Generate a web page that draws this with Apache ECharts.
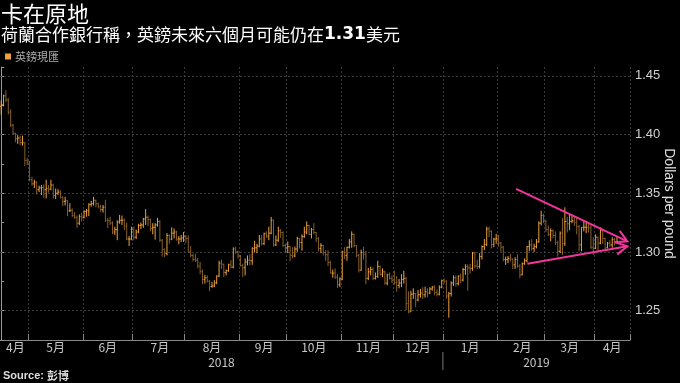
<!DOCTYPE html>
<html><head><meta charset="utf-8">
<script src="https://cdn.jsdelivr.net/npm/echarts/dist/echarts.min.js"></script>
<style>html,body{margin:0;padding:0;background:#000}#c{width:680px;height:383px}</style>
</head><body><div id="c"></div><script>
// ---------- data ----------
const monthDays = [
 ['2018-04',[13,16,17,18,19,20,23,24,25,26,27,30]],
 ['2018-05',[1,2,3,4,7,8,9,10,11,14,15,16,17,18,21,22,23,24,25,28,29,30,31]],
 ['2018-06',[1,4,5,6,7,8,11,12,13,14,15,18,19,20,21,22,25,26,27,28,29]],
 ['2018-07',[2,3,4,5,6,9,10,11,12,13,16,17,18,19,20,23,24,25,26,27,30,31]],
 ['2018-08',[1,2,3,6,7,8,9,10,13,14,15,16,17,20,21,22,23,24,27,28,29,30,31]],
 ['2018-09',[3,4,5,6,7,10,11,12,13,14,17,18,19,20,21,24,25,26,27,28]],
 ['2018-10',[1,2,3,4,5,8,9,10,11,12,15,16,17,18,19,22,23,24,25,26,29,30,31]],
 ['2018-11',[1,2,5,6,7,8,9,12,13,14,15,16,19,20,21,22,23,26,27,28,29,30]],
 ['2018-12',[3,4,5,6,7,10,11,12,13,14,17,18,19,20,21,24,25,26,27,28,31]],
 ['2019-01',[1,2,3,4,7,8,9,10,11,14,15,16,17,18,21,22,23,24,25,28,29,30,31]],
 ['2019-02',[1,4,5,6,7,8,11,12,13,14,15,18,19,20,21,22,25,26,27,28]],
 ['2019-03',[1,4,5,6,7,8,11,12,13,14,15,18,19,20,21,22,25,26,27,28,29]],
 ['2019-04',[1,2,3,4,5,8,9,10,11,12,15,16,17,18,19]]
];
const priceTicks = [1.25, 1.30, 1.35, 1.40, 1.45];
// rows: [open, high, low, close]
const apr18 = [
 [1.4240,1.4290,1.4170,1.4255],[1.4255,1.4340,1.4240,1.4330],[1.4330,1.4377,1.4275,1.4295],
 [1.4295,1.4310,1.4170,1.4190],[1.4190,1.4215,1.4065,1.4080],[1.4080,1.4090,1.4000,1.4010],
 [1.4010,1.4015,1.3935,1.3965],[1.3965,1.3995,1.3920,1.3970],[1.3970,1.3990,1.3910,1.3930],
 [1.3930,1.3990,1.3905,1.3930],[1.3930,1.3935,1.3730,1.3780],[1.3780,1.3800,1.3740,1.3765]];
const may18 = [
 [1.3765,1.3775,1.3600,1.3615],[1.3615,1.3640,1.3565,1.3580],[1.3580,1.3615,1.3545,1.3595],
 [1.3595,1.3600,1.3490,1.3530],[1.3530,1.3565,1.3510,1.3545],[1.3545,1.3570,1.3485,1.3550],
 [1.3550,1.3575,1.3460,1.3530],[1.3530,1.3615,1.3455,1.3540],[1.3540,1.3570,1.3505,1.3535],
 [1.3535,1.3615,1.3525,1.3570],[1.3570,1.3580,1.3455,1.3480],[1.3480,1.3540,1.3450,1.3500],
 [1.3500,1.3535,1.3485,1.3510],[1.3510,1.3525,1.3455,1.3465],[1.3465,1.3475,1.3390,1.3430],
 [1.3430,1.3470,1.3395,1.3435],[1.3435,1.3440,1.3305,1.3350],[1.3350,1.3415,1.3340,1.3355],
 [1.3355,1.3370,1.3295,1.3310],[1.3310,1.3340,1.3280,1.3295],[1.3295,1.3310,1.3205,1.3245],
 [1.3245,1.3320,1.3230,1.3300],[1.3300,1.3335,1.3260,1.3295]];
const jun18 = [
 [1.3295,1.3355,1.3285,1.3345],[1.3345,1.3365,1.3300,1.3350],[1.3350,1.3415,1.3305,1.3405],
 [1.3405,1.3435,1.3385,1.3410],[1.3410,1.3470,1.3395,1.3440],[1.3440,1.3445,1.3380,1.3410],
 [1.3410,1.3420,1.3370,1.3385],[1.3385,1.3400,1.3340,1.3360],[1.3360,1.3400,1.3335,1.3380],
 [1.3380,1.3445,1.3255,1.3270],[1.3270,1.3290,1.3205,1.3265],[1.3265,1.3300,1.3230,1.3245],
 [1.3245,1.3260,1.3150,1.3170],[1.3170,1.3215,1.3145,1.3190],[1.3190,1.3270,1.3100,1.3255],
 [1.3255,1.3315,1.3240,1.3270],[1.3270,1.3310,1.3230,1.3270],[1.3270,1.3285,1.3185,1.3220],
 [1.3220,1.3250,1.3100,1.3110],[1.3110,1.3135,1.3050,1.3110],[1.3110,1.3215,1.3100,1.3190]];
const jul18 = [
 [1.3190,1.3215,1.3100,1.3125],[1.3125,1.3190,1.3110,1.3170],[1.3170,1.3240,1.3160,1.3225],
 [1.3225,1.3250,1.3195,1.3230],[1.3230,1.3290,1.3205,1.3280],[1.3280,1.3365,1.3230,1.3295],
 [1.3295,1.3310,1.3220,1.3275],[1.3275,1.3285,1.3175,1.3200],[1.3200,1.3245,1.3150,1.3210],
 [1.3210,1.3245,1.3105,1.3230],[1.3230,1.3290,1.3215,1.3260],[1.3260,1.3270,1.3085,1.3100],
 [1.3100,1.3110,1.2960,1.3020],[1.3020,1.3030,1.2955,1.2985],[1.2985,1.3160,1.2970,1.3140],
 [1.3140,1.3150,1.3070,1.3110],[1.3110,1.3210,1.3100,1.3160],[1.3160,1.3200,1.3115,1.3170],
 [1.3170,1.3180,1.3095,1.3110],[1.3110,1.3135,1.3065,1.3110],[1.3110,1.3145,1.3085,1.3120],
 [1.3120,1.3170,1.3085,1.3130]];
const aug18 = [
 [1.3130,1.3145,1.3075,1.3115],[1.3115,1.3140,1.2995,1.3000],[1.3000,1.3050,1.2955,1.2970],
 [1.2970,1.2985,1.2920,1.2935],[1.2935,1.2985,1.2915,1.2930],[1.2930,1.2950,1.2860,1.2880],
 [1.2880,1.2915,1.2810,1.2835],[1.2835,1.2850,1.2725,1.2765],[1.2765,1.2805,1.2730,1.2780],
 [1.2780,1.2800,1.2740,1.2750],[1.2750,1.2760,1.2665,1.2705],[1.2705,1.2745,1.2695,1.2710],
 [1.2710,1.2760,1.2700,1.2735],[1.2735,1.2800,1.2725,1.2795],[1.2795,1.2925,1.2785,1.2905],
 [1.2905,1.2935,1.2855,1.2895],[1.2895,1.2900,1.2785,1.2825],[1.2825,1.2850,1.2800,1.2840],
 [1.2840,1.2900,1.2830,1.2890],[1.2890,1.2930,1.2860,1.2870],[1.2870,1.3040,1.2860,1.3025],
 [1.3025,1.3045,1.2985,1.3000],[1.3000,1.3010,1.2945,1.2965]];
const sep18 = [
 [1.2965,1.2975,1.2875,1.2885],[1.2885,1.2900,1.2785,1.2865],[1.2865,1.2945,1.2800,1.2915],
 [1.2915,1.2970,1.2885,1.2930],[1.2930,1.2980,1.2885,1.2925],[1.2925,1.3040,1.2890,1.3030],
 [1.3030,1.3095,1.2995,1.3035],[1.3035,1.3070,1.2990,1.3050],[1.3050,1.3145,1.3040,1.3110],
 [1.3110,1.3145,1.3055,1.3070],[1.3070,1.3165,1.3060,1.3155],[1.3155,1.3175,1.3120,1.3135],
 [1.3135,1.3215,1.3100,1.3160],[1.3160,1.3298,1.3150,1.3270],[1.3270,1.3275,1.3045,1.3060],
 [1.3060,1.3140,1.3050,1.3100],[1.3100,1.3215,1.3085,1.3180],[1.3180,1.3195,1.3120,1.3165],
 [1.3165,1.3175,1.3040,1.3055],[1.3055,1.3070,1.2995,1.3035]];
const oct18 = [
 [1.3035,1.3090,1.2990,1.3045],[1.3045,1.3050,1.2920,1.2970],[1.2970,1.3040,1.2945,1.2965],
 [1.2965,1.3045,1.2955,1.3025],[1.3025,1.3130,1.3000,1.3115],[1.3115,1.3120,1.3030,1.3080],
 [1.3080,1.3150,1.3010,1.3130],[1.3130,1.3215,1.3120,1.3170],[1.3170,1.3260,1.3150,1.3225],
 [1.3225,1.3230,1.3145,1.3150],[1.3150,1.3205,1.3115,1.3190],[1.3190,1.3245,1.3150,1.3165],
 [1.3165,1.3170,1.3085,1.3115],[1.3115,1.3125,1.3005,1.3030],[1.3030,1.3075,1.2990,1.3055],
 [1.3055,1.3060,1.2970,1.2995],[1.2995,1.3015,1.2925,1.2975],[1.2975,1.3015,1.2880,1.2910],
 [1.2910,1.2925,1.2815,1.2820],[1.2820,1.2850,1.2780,1.2820],[1.2820,1.2860,1.2770,1.2785],
 [1.2785,1.2810,1.2695,1.2720],[1.2720,1.2785,1.2700,1.2770]];
const nov18 = [
 [1.2770,1.3010,1.2760,1.3000],[1.3000,1.3040,1.2940,1.2970],[1.2970,1.3045,1.2925,1.3040],
 [1.3040,1.3110,1.3030,1.3085],[1.3085,1.3175,1.3035,1.3150],[1.3150,1.3155,1.3040,1.3055],
 [1.3055,1.3060,1.2955,1.2970],[1.2970,1.2985,1.2825,1.2845],[1.2845,1.3020,1.2840,1.2995],
 [1.2995,1.3045,1.2935,1.2980],[1.2980,1.3010,1.2725,1.2775],[1.2775,1.2865,1.2760,1.2830],
 [1.2830,1.2875,1.2800,1.2850],[1.2850,1.2870,1.2760,1.2775],[1.2775,1.2825,1.2765,1.2790],
 [1.2790,1.2925,1.2780,1.2875],[1.2875,1.2885,1.2800,1.2810],[1.2810,1.2860,1.2785,1.2830],
 [1.2830,1.2840,1.2720,1.2735],[1.2735,1.2815,1.2715,1.2805],[1.2805,1.2825,1.2765,1.2775],
 [1.2775,1.2800,1.2735,1.2760]];
const dec18 = [
 [1.2760,1.2840,1.2720,1.2740],[1.2740,1.2795,1.2660,1.2715],[1.2715,1.2770,1.2690,1.2735],
 [1.2735,1.2810,1.2700,1.2765],[1.2765,1.2840,1.2730,1.2775],[1.2775,1.2785,1.2505,1.2560],
 [1.2560,1.2665,1.2477,1.2490],[1.2490,1.2670,1.2490,1.2640],[1.2640,1.2690,1.2600,1.2645],
 [1.2645,1.2650,1.2530,1.2590],[1.2590,1.2675,1.2580,1.2635],[1.2635,1.2685,1.2610,1.2650],
 [1.2650,1.2700,1.2600,1.2635],[1.2635,1.2705,1.2610,1.2660],[1.2660,1.2690,1.2615,1.2650],
 [1.2650,1.2700,1.2640,1.2685],[1.2685,1.2710,1.2670,1.2700],[1.2700,1.2715,1.2630,1.2655],
 [1.2655,1.2680,1.2620,1.2640],[1.2640,1.2715,1.2630,1.2700],[1.2700,1.2765,1.2690,1.2755]];
const jan19 = [
 [1.2755,1.2775,1.2730,1.2750],[1.2750,1.2760,1.2600,1.2625],[1.2625,1.2660,1.2440,1.2645],
 [1.2645,1.2750,1.2620,1.2735],[1.2735,1.2800,1.2710,1.2780],[1.2780,1.2800,1.2705,1.2730],
 [1.2730,1.2800,1.2715,1.2795],[1.2795,1.2815,1.2735,1.2760],[1.2760,1.2865,1.2750,1.2850],
 [1.2850,1.2895,1.2805,1.2875],[1.2875,1.2895,1.2670,1.2865],[1.2865,1.2900,1.2815,1.2860],
 [1.2860,1.3000,1.2840,1.2990],[1.2990,1.3000,1.2860,1.2880],[1.2880,1.2935,1.2855,1.2875],
 [1.2875,1.2990,1.2860,1.2960],[1.2960,1.3055,1.2935,1.3045],[1.3045,1.3110,1.3015,1.3065],
 [1.3065,1.3215,1.3050,1.3195],[1.3195,1.3215,1.3125,1.3175],[1.3175,1.3185,1.3030,1.3065],
 [1.3065,1.3120,1.3040,1.3110],[1.3110,1.3155,1.3070,1.3115]];
const feb19 = [
 [1.3115,1.3145,1.3045,1.3075],[1.3075,1.3085,1.3000,1.3040],[1.3040,1.3050,1.2920,1.2935],
 [1.2935,1.2960,1.2890,1.2935],[1.2935,1.2965,1.2905,1.2945],[1.2945,1.2985,1.2920,1.2940],
 [1.2940,1.2945,1.2855,1.2890],[1.2890,1.2955,1.2855,1.2935],[1.2935,1.2980,1.2865,1.2880],
 [1.2880,1.2895,1.2775,1.2805],[1.2805,1.2910,1.2800,1.2900],[1.2900,1.2945,1.2890,1.2925],
 [1.2925,1.3050,1.2910,1.3045],[1.3045,1.3100,1.3005,1.3060],[1.3060,1.3110,1.3010,1.3030],
 [1.3030,1.3070,1.3000,1.3045],[1.3045,1.3110,1.3030,1.3085],[1.3085,1.3260,1.3080,1.3245],
 [1.3245,1.3350,1.3225,1.3310],[1.3310,1.3325,1.3245,1.3260]];
const mar19 = [
 [1.3260,1.3275,1.3170,1.3190],[1.3190,1.3225,1.3135,1.3150],[1.3150,1.3200,1.3090,1.3180],
 [1.3180,1.3190,1.3115,1.3140],[1.3140,1.3175,1.3060,1.3080],[1.3080,1.3095,1.2960,1.3005],
 [1.3005,1.3175,1.2990,1.3160],[1.3160,1.3290,1.2975,1.3070],[1.3070,1.3380,1.3050,1.3260],
 [1.3260,1.3300,1.3165,1.3240],[1.3240,1.3320,1.3185,1.3260],[1.3260,1.3305,1.3245,1.3265],
 [1.3265,1.3300,1.3220,1.3250],[1.3250,1.3290,1.3150,1.3215],[1.3215,1.3230,1.3005,1.3060],
 [1.3060,1.3210,1.3005,1.3210],[1.3210,1.3260,1.3175,1.3210],[1.3210,1.3265,1.3160,1.3210],
 [1.3210,1.3245,1.3165,1.3205],[1.3205,1.3230,1.3025,1.3040],[1.3040,1.3125,1.2975,1.3030]];
const apr19 = [
 [1.3030,1.3150,1.3025,1.3125],[1.3125,1.3130,1.3005,1.3075],[1.3075,1.3210,1.3065,1.3180],
 [1.3180,1.3185,1.3070,1.3115],[1.3115,1.3120,1.3015,1.3035],[1.3035,1.3085,1.3030,1.3075],
 [1.3075,1.3100,1.3040,1.3060],[1.3060,1.3125,1.3035,1.3105],[1.3105,1.3120,1.3055,1.3085],
 [1.3085,1.3130,1.3070,1.3090]];
// trend-line annotations: [x0 (bar index), price0, x1 (bar index), price1]
const trendLines = [[217.4, 1.3537, 264.4, 1.3090], [222.2, 1.2900, 264.4, 1.3048]];

// ---------- build ----------
const UP = '#eda03e', DOWN = '#85602c', PINK = '#f2359c';
const dates = [];
const monthStart = new Set(), monthMid = new Set();
monthDays.forEach(([ym, days]) => {
  monthStart.add(dates.length);
  monthMid.add(dates.length + Math.floor(days.length / 2));
  days.forEach(d => dates.push(ym + '-' + String(d).padStart(2, '0')));
});
monthStart.delete(0);
const yearFirst = {}, yearCount = {};
dates.forEach((d, i) => { const y = d.slice(0, 4); if (!(y in yearFirst)) { yearFirst[y] = i; yearCount[y] = 0; } yearCount[y]++; });
const yearMid = new Set(Object.keys(yearFirst).map(y => yearFirst[y] + Math.floor(yearCount[y] / 2)));
const yearBoundaries = Object.keys(yearFirst).filter(y => yearFirst[y] > 0).map(y => [yearFirst[y] - 0.5]);

const ohlc = [].concat(apr18, may18, jun18, jul18, aug18, sep18, oct18, nov18, dec18, jan19, feb19, mar19, apr19);
const bars = ohlc.map((r, i) => [i, r[0], r[1], r[2], r[3]]);

function renderOHLC(params, api) {
  const x = api.value(0);
  const o = api.value(1), h = api.value(2), l = api.value(3), c = api.value(4);
  const pH = api.coord([x, h]), pL = api.coord([x, l]);
  const pO = api.coord([x, o]), pC = api.coord([x, c]);
  const w = api.size([1, 0])[0] * 0.45;
  const col = c >= o ? UP : DOWN;
  const st = { stroke: col, lineWidth: 1 };
  return { type: 'group', children: [
    { type: 'line', shape: { x1: pH[0], y1: pH[1], x2: pL[0], y2: pL[1] }, style: st },
    { type: 'line', shape: { x1: pO[0] - w, y1: pO[1], x2: pO[0], y2: pO[1] }, style: st },
    { type: 'line', shape: { x1: pC[0], y1: pC[1], x2: pC[0] + w, y2: pC[1] }, style: st }
  ]};
}
function renderArrow(params, api) {
  const p1 = api.coord([api.value(0), api.value(1)]);
  const p2 = api.coord([api.value(2), api.value(3)]);
  const ang = Math.atan2(p2[1] - p1[1], p2[0] - p1[0]);
  const len = 13, spread = 0.5;
  const a1 = [p2[0] - len * Math.cos(ang - spread), p2[1] - len * Math.sin(ang - spread)];
  const a2 = [p2[0] - len * Math.cos(ang + spread), p2[1] - len * Math.sin(ang + spread)];
  const st = { stroke: PINK, lineWidth: 2, fill: null };
  return { type: 'group', children: [
    { type: 'line', shape: { x1: p1[0], y1: p1[1], x2: p2[0], y2: p2[1] }, style: st },
    { type: 'polyline', shape: { points: [a1, p2, a2] }, style: st }
  ]};
}
function renderSep(params, api) {
  const cs = params.coordSys;
  const x = api.coord([api.value(0), 1.3])[0];
  const y0 = cs.y + cs.height;
  return { type: 'line', shape: { x1: x, y1: y0 + 12, x2: x, y2: y0 + 30 }, style: { stroke: '#777', lineWidth: 1 } };
}

const chart = echarts.init(document.getElementById('c'), null, { renderer: 'canvas' });
const CJK = "'Noto Sans CJK TC', 'Noto Sans CJK SC', sans-serif";
const NARROW = "'Liberation Sans Narrow', 'Noto Sans CJK TC', sans-serif";
chart.setOption({
  backgroundColor: '#000',
  animation: false,
  title: [
    { text: '卡在原地', left: 1, top: 3, padding: 0,
      textStyle: { color: '#fff', fontSize: 22, fontWeight: 'normal', fontFamily: CJK } },
    { text: '{a|荷蘭合作銀行稱，英鎊未來六個月可能仍在}{b|1.31}{a|美元}', left: 1, top: 26, padding: 0,
      textStyle: { fontWeight: 'normal', rich: {
        a: { color: '#fff', fontSize: 17, fontWeight: 'normal', fontFamily: CJK },
        b: { color: '#fff', fontSize: 17, fontWeight: 'bold', fontFamily: "'DejaVu Sans', sans-serif" } } } },
    { text: '{b|Source: }{c|彭博}', left: 3, top: 370, padding: 0,
      textStyle: { rich: {
        b: { color: '#ddd', fontSize: 11, fontWeight: 'bold', fontFamily: "'Liberation Sans', sans-serif" },
        c: { color: '#ddd', fontSize: 11, fontWeight: 'bold', fontFamily: CJK } } } }
  ],
  legend: {
    data: [{ name: '英鎊現匯', icon: 'rect' }], left: 5, top: 51, padding: 0,
    itemWidth: 6, itemHeight: 6, itemGap: 4,
    textStyle: { color: '#aaa', fontSize: 11, fontFamily: CJK, padding: [0, 0, 0, -1] }
  },
  grid: { left: 0, right: 50, top: 67, bottom: 43, containLabel: false, outerBoundsMode: 'none' },
  xAxis: [
    { type: 'category', data: dates, boundaryGap: true,
      axisLine: { show: true, lineStyle: { color: '#888', width: 1 } },
      axisTick: { show: true, inside: true, length: 6, interval: (i) => monthStart.has(i), lineStyle: { color: '#888' } },
      splitLine: { show: true, interval: (i) => monthStart.has(i), lineStyle: { color: '#3a3a3a', type: [2, 2] } },
      axisLabel: { interval: (i) => monthMid.has(i), margin: 1, color: '#c8c8c8', fontSize: 12, fontFamily: NARROW,
        formatter: (v) => parseInt(v.slice(5, 7), 10) + '月' } },
    { type: 'category', data: dates, boundaryGap: true, position: 'bottom', offset: 14,
      axisLine: { show: false }, axisTick: { show: false }, splitLine: { show: false },
      axisLabel: { interval: (i) => yearMid.has(i), margin: 2, color: '#c8c8c8', fontSize: 12, fontFamily: NARROW,
        formatter: (v) => v.slice(0, 4) } },
    { type: 'value', min: -0.5, max: dates.length - 0.5, show: false }
  ],
  yAxis: {
    type: 'value', position: 'right', min: 1.225, max: 1.4575, interval: 0.025,
    axisLine: { show: true, lineStyle: { color: '#999', width: 1 } },
    axisTick: { show: true, length: 3, lineStyle: { color: '#999' } },
    splitLine: { show: false },
    axisLabel: { margin: 5, color: '#d0d0d0', fontSize: 13, fontFamily: "'Liberation Sans', sans-serif",
      formatter: (v) => priceTicks.some(t => Math.abs(t - v) < 1e-6) ? v.toFixed(2) : '' },
    name: 'Dollars per pound', nameLocation: 'middle', nameGap: 32, nameRotate: -90, nameMoveOverlap: false,
    nameTextStyle: { color: '#e0e0e0', fontSize: 14, fontFamily: "'Liberation Sans', sans-serif" }
  },
  series: [
    { type: 'custom', name: 'grid', xAxisIndex: 2, yAxisIndex: 0, z: 1, data: [],
      renderItem: () => null,
      markLine: { silent: true, symbol: 'none', z: 1, animation: false, label: { show: false },
        lineStyle: { color: '#3a3a3a', width: 1, type: [2, 2] },
        data: priceTicks.map(v => ({ yAxis: v })) } },
    { type: 'custom', name: '英鎊現匯', xAxisIndex: 0, yAxisIndex: 0, z: 5,
      itemStyle: { color: UP }, renderItem: renderOHLC,
      encode: { x: 0, y: [1, 2, 3, 4] }, data: bars },
    { type: 'custom', name: 'trend', xAxisIndex: 2, yAxisIndex: 0, z: 8,
      renderItem: renderArrow, encode: { x: [0, 2], y: [1, 3] }, data: trendLines },
    { type: 'custom', name: 'sep', xAxisIndex: 2, yAxisIndex: 0, z: 8, clip: false,
      renderItem: renderSep, encode: { x: 0 }, data: yearBoundaries }
  ]
});
</script></body></html>
